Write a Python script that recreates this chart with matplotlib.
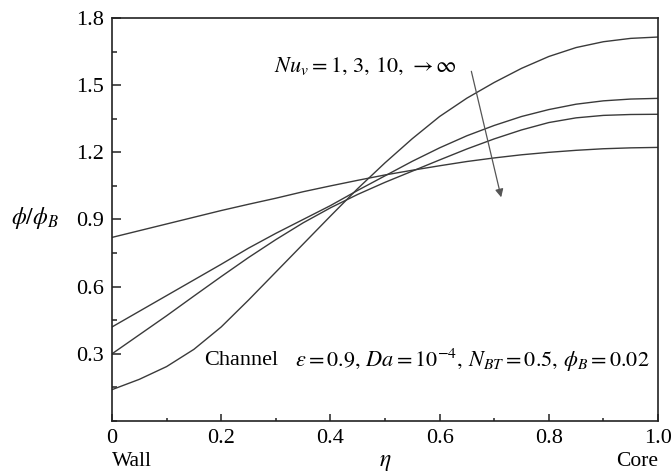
import numpy as np
import matplotlib
matplotlib.use("Agg")
import matplotlib.pyplot as plt
from matplotlib.ticker import MultipleLocator

plt.rcParams['font.family'] = ['Liberation Serif', 'DejaVu Serif']
plt.rcParams['mathtext.fontset'] = 'stix'

# eta grid and concentration profiles
eta = [0.0, 0.05, 0.1, 0.15, 0.2, 0.25, 0.3, 0.35, 0.4, 0.45, 0.5,
       0.55, 0.6, 0.65, 0.7, 0.75, 0.8, 0.85, 0.9, 0.95, 1.0]
phi_nu1 = [0.140, 0.186, 0.243, 0.320, 0.420, 0.540, 0.665, 0.790, 0.915, 1.038, 1.153,
           1.261, 1.360, 1.442, 1.512, 1.575, 1.628, 1.668, 1.694, 1.709, 1.715]
phi_nu3 = [0.420, 0.490, 0.560, 0.630, 0.700, 0.772, 0.838, 0.900, 0.962, 1.030, 1.095,
           1.160, 1.220, 1.274, 1.320, 1.360, 1.391, 1.415, 1.430, 1.438, 1.441]
phi_nu10 = [0.300, 0.385, 0.470, 0.558, 0.645, 0.730, 0.810, 0.885, 0.952, 1.012, 1.066,
            1.116, 1.166, 1.215, 1.260, 1.300, 1.333, 1.354, 1.365, 1.369, 1.370]
phi_inf = [0.820, 0.850, 0.880, 0.910, 0.940, 0.968, 0.995, 1.024, 1.050, 1.075, 1.099,
           1.120, 1.140, 1.159, 1.175, 1.189, 1.200, 1.209, 1.216, 1.220, 1.222]

xticks = [0, 0.2, 0.4, 0.6, 0.8, 1.0]
yticks = [0.3, 0.6, 0.9, 1.2, 1.5, 1.8]

fig = plt.figure(figsize=(6.71, 4.75), dpi=100)
ax = fig.add_axes([0.1669, 0.1137, 0.8137, 0.8484])

for phi in (phi_nu1, phi_nu3, phi_nu10, phi_inf):
    ax.plot(eta, phi, color='#3a3a3a', lw=1.0, solid_joinstyle='round')

ax.set_xlim(0, 1.0)
ax.set_ylim(0, 1.8)
ax.set_xticks(xticks)
ax.set_xticklabels(['0', '0.2', '0.4', '0.6', '0.8', '1.0'])
ax.set_yticks(yticks)
ax.set_yticklabels(['0.3', '0.6', '0.9', '1.2', '1.5', '1.8'])
ax.xaxis.set_minor_locator(MultipleLocator(0.1))
ax.yaxis.set_minor_locator(MultipleLocator(0.15))

for s in ax.spines.values():
    s.set_linewidth(1.2)
    s.set_color('#222222')
ax.tick_params(axis='both', which='both', direction='in', top=False, right=False,
               labelsize=16, width=1.1, color='#222222')
ax.tick_params(axis='y', which='major', length=6.3, pad=6)
ax.tick_params(axis='y', which='minor', length=3.6)
ax.tick_params(axis='x', which='major', length=5, pad=6)
ax.tick_params(axis='x', which='minor', length=2.5)

ax.text(-0.141, 0.504, r'$\phi/\phi_B$', transform=ax.transAxes, fontsize=17,
        ha='center', va='center')
ax.text(0.5, -0.104, r'$\eta$', transform=ax.transAxes, fontsize=17,
        ha='center', va='center')

ax.text(0.0, -0.1, 'Wall', transform=ax.transAxes, fontsize=15.5, ha='left', va='center')
ax.text(1.0, -0.1, 'Core', transform=ax.transAxes, fontsize=15.5, ha='right', va='center')

ax.text(0.297, 1.585, r'$Nu_v = 1,\,3,\,10,\,\rightarrow\infty$', fontsize=16,
        ha='left', va='center')
ax.annotate('', xy=(0.714, 0.987), xytext=(0.657, 1.574),
            arrowprops=dict(arrowstyle='-|>', color='#555555', lw=0.9,
                            mutation_scale=12))

ax.text(0.168, 0.27, 'Channel', fontsize=16, ha='left', va='center')
ax.text(0.985, 0.27,
        r'$\varepsilon = 0.9,\,Da = 10^{-4},\,N_{BT} = 0.5,\,\phi_B = 0.02$',
        fontsize=16, ha='right', va='center')

fig.savefig('out.png', dpi=100)
